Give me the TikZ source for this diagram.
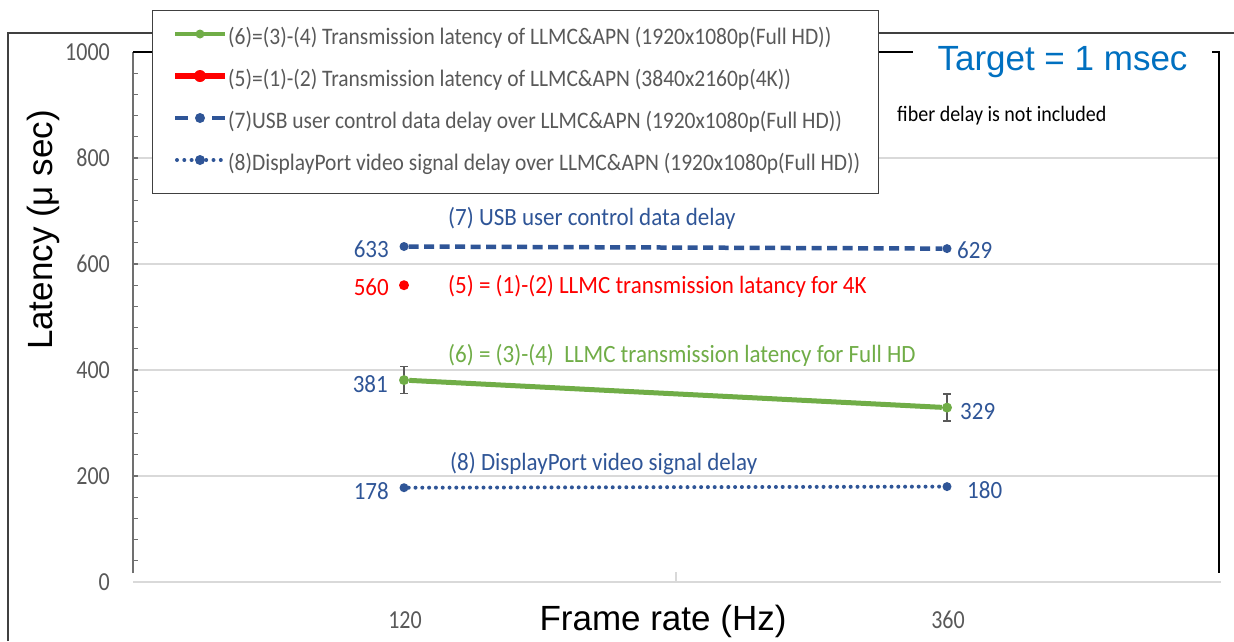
\documentclass[tikz,border=0pt]{standalone}
\usepackage{fontspec}
\setmainfont{Carlito}
\newfontfamily\arialfont{Liberation Sans}
\definecolor{txtgrey}{HTML}{595959}
\definecolor{gridgrey}{HTML}{D9D9D9}
\definecolor{axisgrey}{HTML}{707070}
\definecolor{framegrey}{HTML}{404040}
\definecolor{hdgreen}{HTML}{70AD47}
\definecolor{usbblue}{HTML}{2F5597}
\definecolor{fourkred}{HTML}{FF0000}
\definecolor{targetblue}{HTML}{0070C0}
\begin{document}
\begin{tikzpicture}[x=1pt,y=-1pt,
  ticklabel/.style={font=\fontsize{22}{26}\selectfont, text=txtgrey, inner sep=0pt, yscale=1.18},
  legtext/.style={font=\fontsize{21.5}{25}\selectfont, text=txtgrey, anchor=base west, inner sep=0pt, yscale=1.1},
  vallabel/.style={font=\fontsize{23}{27}\selectfont, inner sep=0pt, yscale=1.08},
  gridrule/.style={draw=gridgrey, line width=1.5pt},
  hdline/.style={draw=hdgreen, line width=5pt},
  usbline/.style={draw=usbblue, line width=4.5pt, dash pattern=on 10pt off 5.5pt},
  dpline/.style={draw=usbblue, line width=4pt, line cap=round, dash pattern=on 0pt off 6.8pt},
  marker/.style={circle, inner sep=0pt, minimum size=#1},
  errbar/.style={draw=txtgrey, line width=1.5pt},
  arialtitle/.style={font=\arialfont\fontsize{35}{40}\selectfont, inner sep=0pt},
]
\useasboundingbox (0,0) rectangle (1234,641);
\fill[white] (0,0) rectangle (1234,641);

% outer frame
\coordinate (fbl) at (8,641);
\coordinate (ftl) at (8,33);
\coordinate (ftr) at (1234,33);
\draw[framegrey, line width=1.3pt] (fbl) -- (ftl) -- (ftr);

% horizontal gridlines and category axis
\foreach \yy in {158,264,370,476} \draw[gridrule] (133,\yy) -- (1219,\yy);
\draw[gridrule] (133,582) -- (1221,582);
\draw[gridrule] (676,572) -- (676,582);

% plot box: grey value axis on the left, black top and right
\draw[axisgrey, line width=1.5pt] (133,573) -- (133,52);
\foreach \k in {1,...,25} \draw[axisgrey, line width=1.2pt] (133,{582-21.2*\k}) -- (138,{582-21.2*\k});
\draw[black, line width=1.5pt] (133,52) -- (1219,52) -- (1219,573);

% value axis labels
\foreach \v/\yy in {0/582,200/476,400/370,600/264,800/158,1000/52}
  \node[ticklabel, anchor=east] (yl\v) at (110,\yy) {\v};

% category labels
\node[ticklabel, anchor=base] (x120) at (405,628) {120};
\node[ticklabel, anchor=base] (x360) at (948,628) {360};

% axis titles
\node[arialtitle, anchor=base] (xtitle) at (663,630) {Frame rate (Hz)};
\node[arialtitle, anchor=base, rotate=90] (ytitle) at (52,230) {Latency (μ sec)};

% (7) USB user control data delay
\node[marker=9pt, fill=usbblue] (u1) at (404,246.5) {};
\node[marker=9pt, fill=usbblue] (u2) at (947,248.6) {};
\draw[usbline] (u1) -- (u2);

% (5) 4K transmission latency
\node[marker=10pt, fill=fourkred] (r1) at (404,285.2) {};

% (6) Full HD transmission latency with error bars
\coordinate (e1t) at (404,366.6); \coordinate (e1b) at (404,393.6);
\coordinate (e2t) at (947,394.1); \coordinate (e2b) at (947,421.1);
\draw[errbar] (e1t) -- (e1b);
\draw[errbar] ([xshift=-4pt]e1t) -- ([xshift=4pt]e1t);
\draw[errbar] ([xshift=-4pt]e1b) -- ([xshift=4pt]e1b);
\draw[errbar] (e2t) -- (e2b);
\draw[errbar] ([xshift=-4pt]e2t) -- ([xshift=4pt]e2t);
\draw[errbar] ([xshift=-4pt]e2b) -- ([xshift=4pt]e2b);
\node[marker=10pt, fill=hdgreen] (g1) at (404,380.1) {};
\node[marker=10pt, fill=hdgreen] (g2) at (947,407.6) {};
\draw[hdline] (g1) -- (g2);

% (8) DisplayPort video signal delay
\node[marker=9pt, fill=usbblue] (d1) at (404,487.7) {};
\node[marker=9pt, fill=usbblue] (d2) at (947,486.6) {};
\draw[dpline] (d1) -- (d2);

% value labels
\node[vallabel, text=usbblue, anchor=base east] (v633) at (389,257) {633};
\node[vallabel, text=usbblue, anchor=base west] (v629) at (957,258) {629};
\node[vallabel, text=fourkred, anchor=base east] (v560) at (389,295) {560};
\node[vallabel, text=usbblue, anchor=base east] (v381) at (388,392) {381};
\node[vallabel, text=usbblue, anchor=base west] (v329) at (960,419) {329};
\node[vallabel, text=usbblue, anchor=base east] (v178) at (389,499) {178};
\node[vallabel, text=usbblue, anchor=base west] (v180) at (967,498) {180};

% series captions
\node[vallabel, text=usbblue, anchor=base west] (c7) at (448,225) {(7) USB user control data delay};
\node[vallabel, text=fourkred, anchor=base west] (c5) at (448,293) {(5) = (1)-(2) LLMC transmission latancy for 4K};
\node[vallabel, text=hdgreen, anchor=base west] (c6) at (448,362) {(6) = (3)-(4)\ \ LLMC transmission latency for Full HD};
\node[vallabel, text=usbblue, anchor=base west] (c8) at (450,470) {(8) DisplayPort video signal delay};

% legend
\node[draw=framegrey, line width=1.3pt, fill=white, minimum width=726pt, minimum height=183pt, inner sep=0pt, anchor=north west] (legend) at (152,10) {};
% entry 1
\coordinate (l1a) at (175,34); \coordinate (l1b) at (225,34);
\draw[draw=hdgreen, line width=4.5pt] (l1a) -- (l1b);
\node[marker=9pt, fill=hdgreen] (l1m) at (200,34) {};
\node[legtext] (l1t) at (228,44) {(6)=(3)-(4) Transmission latency of LLMC\&APN (1920x1080p(Full HD))};
% entry 2
\coordinate (l2a) at (175,76); \coordinate (l2b) at (225,76);
\draw[draw=fourkred, line width=5.5pt] (l2a) -- (l2b);
\node[marker=12pt, fill=fourkred] (l2m) at (200,76) {};
\node[legtext] (l2t) at (228,86) {(5)=(1)-(2) Transmission latency of LLMC\&APN (3840x2160p(4K))};
% entry 3
\coordinate (l3a) at (175,118); \coordinate (l3b) at (225,118);
\node[marker=10pt, fill=usbblue] (l3m) at (200,118) {};
\draw[draw=usbblue, line width=4.5pt] (l3a) -- ([xshift=13pt]l3a);
\draw[draw=usbblue, line width=4.5pt] ([xshift=-13pt]l3b) -- (l3b);
\node[legtext] (l3t) at (228,128) {(7)USB user control data delay over LLMC\&APN (1920x1080p(Full HD))};
% entry 4
\coordinate (l4a) at (177,160); \coordinate (l4b) at (221,160);
\draw[draw=usbblue, line width=4pt, line cap=round, dash pattern=on 0pt off 7.3pt] (l4a) -- (l4b);
\node[marker=10pt, fill=usbblue] (l4m) at (200,160) {};
\node[legtext] (l4t) at (228,170) {(8)DisplayPort video signal delay over LLMC\&APN (1920x1080p(Full HD))};

% target note
\node[font=\arialfont\fontsize{35}{40}\selectfont, text=targetblue, fill=white, anchor=base, minimum width=299pt, inner xsep=0pt, inner ysep=3pt] (target) at (1062.5,70) {Target = 1 msec};
\node[font=\fontsize{20}{24}\selectfont, anchor=base west, inner sep=0pt, yscale=1.1] (fiber) at (897,121) {fiber delay is not included};
\end{tikzpicture}
\end{document}
